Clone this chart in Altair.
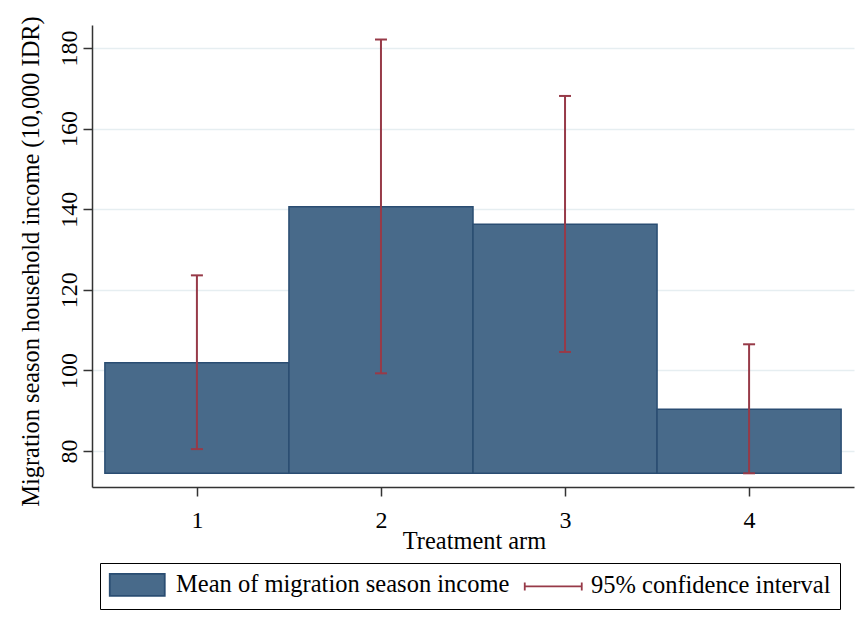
import altair as alt
import pandas as pd

# ---- data ----
arms = [1, 2, 3, 4]
means = [101.9, 140.6, 136.3, 90.4]
ci_lo = [80.5, 99.3, 104.6, 74.5]
ci_hi = [123.6, 182.1, 168.1, 106.5]
y_ticks = [80, 100, 120, 140, 160, 180]

LBL_BAR = "Mean of migration season income"
LBL_CI = "95% confidence interval"
X_TITLE = "Treatment arm"
Y_TITLE = "Migration season household income (10,000 IDR)"

BAR_FILL = "#486a8a"
BAR_EDGE = "#2a4d72"
CI_COL = "#973a48"
AXIS_COL = "#333333"
GRID_COL = "#e6eef1"
FONT = "Liberation Serif"
NBSP = chr(160)

df = pd.DataFrame({"arm": arms, "mean": means, "lo": ci_lo, "hi": ci_hi})
base = min(ci_lo)

xscale = alt.Scale(domain=[0.43, 4.57], nice=False, zero=False)
yscale = alt.Scale(domain=[71.1, 185.7], nice=False, zero=False)

x_axis = alt.Axis(
    values=arms, format="d", title=X_TITLE, grid=False,
    domainColor=AXIS_COL, domainWidth=1.5, tickColor=AXIS_COL, tickWidth=1.5, tickSize=9,
    labelFont=FONT, labelFontSize=24, labelColor="black", labelAngle=0,
    labelBaseline="alphabetic", labelPadding=31, labelFlush=False,
    titleFont=FONT, titleFontSize=24.4, titleFontWeight="normal", titleColor="black",
    titleBaseline="alphabetic", titleAlign="center", titleX=382, titleY=61,
)
y_axis = alt.Axis(
    values=y_ticks, title=Y_TITLE, grid=True, gridColor=GRID_COL, gridWidth=1.5,
    domainColor=AXIS_COL, domainWidth=1.5, tickColor=AXIS_COL, tickWidth=1.5, tickSize=9,
    labelFont=FONT, labelFontSize=24, labelColor="black", labelAngle=270,
    labelAlign="center", labelBaseline="alphabetic", labelPadding=7, labelFlush=False,
    titleFont=FONT, titleFontSize=24.4, titleFontWeight="normal", titleColor="black",
    titleAngle=270, titleAlign="center", titleBaseline="alphabetic", titleX=-54, titleY=236,
)

# legend symbols (custom SVG paths, unit = sqrt(symbolSize)/2 px)
P_BAR = "M-1.2,-1.1H4.3V1.1H-1.2Z"
P_CI = "M-1.2,0H4.5M-1.2,-0.4V0.4M4.5,-0.4V0.4"
LEG_DOMAIN = [LBL_BAR, LBL_CI]

legend = alt.Legend(
    title=None, orient="none", legendX=8, legendY=538, direction="horizontal",
    strokeColor="black", padding=9.5,
    labelFont=FONT, labelFontSize=24.5, labelColor="black", labelLimit=1000,
    symbolSize=400, symbolStrokeWidth=1.8, symbolOpacity=1,
    labelOffset=42, columnPadding=11,
    labelExpr=f"datum.label == '{LBL_CI}' ? datum.label + '{NBSP}{NBSP}' : datum.label",
)


def xenc(field):
    return alt.X(field, scale=xscale, axis=x_axis)


def yenc(field):
    return alt.Y(field, scale=yscale, axis=y_axis)


bars = alt.Chart(df).transform_calculate(
    x0="datum.arm - 0.5", x1="datum.arm + 0.5", b=str(base)
).mark_rect(fill=BAR_FILL, stroke=BAR_EDGE, strokeWidth=1.5, opacity=1).encode(
    x=xenc("x0:Q"),
    x2="x1:Q",
    y=yenc("b:Q"),
    y2="mean:Q",
)

err = alt.Chart(df).mark_rule(color=CI_COL, strokeWidth=2).encode(
    x=xenc("arm:Q"),
    y=yenc("lo:Q"),
    y2="hi:Q",
)
cap_hi = alt.Chart(df).mark_rule(color=CI_COL, strokeWidth=2, xOffset=-6, x2Offset=6).encode(
    x=xenc("arm:Q"),
    x2="arm:Q",
    y=yenc("hi:Q"),
)
cap_lo = alt.Chart(df).mark_rule(color=CI_COL, strokeWidth=2, xOffset=-6, x2Offset=6).encode(
    x=xenc("arm:Q"),
    x2="arm:Q",
    y=yenc("lo:Q"),
)

# legend-only layer (no rows): drives a merged fill/stroke/shape legend
leg = alt.Chart(alt.InlineData(values=[])).mark_point(filled=True).encode(
    fill=alt.Fill("series:N", scale=alt.Scale(domain=LEG_DOMAIN, range=[BAR_FILL, CI_COL]), legend=legend),
    stroke=alt.Stroke("series:N", scale=alt.Scale(domain=LEG_DOMAIN, range=[BAR_EDGE, CI_COL]), legend=legend),
    shape=alt.Shape("series:N", scale=alt.Scale(domain=LEG_DOMAIN, range=[P_BAR, P_CI]), legend=legend),
)

chart = alt.layer(bars, err, cap_hi, cap_lo, leg).properties(
    width=762, height=462,
    padding={"left": 84, "top": 17, "right": 3, "bottom": 132},
    autosize=alt.AutoSizeParams(type="none"),
    background="white",
).configure_view(stroke=None)

chart.save("out.html", embed_options={"renderer": "svg", "actions": False})
